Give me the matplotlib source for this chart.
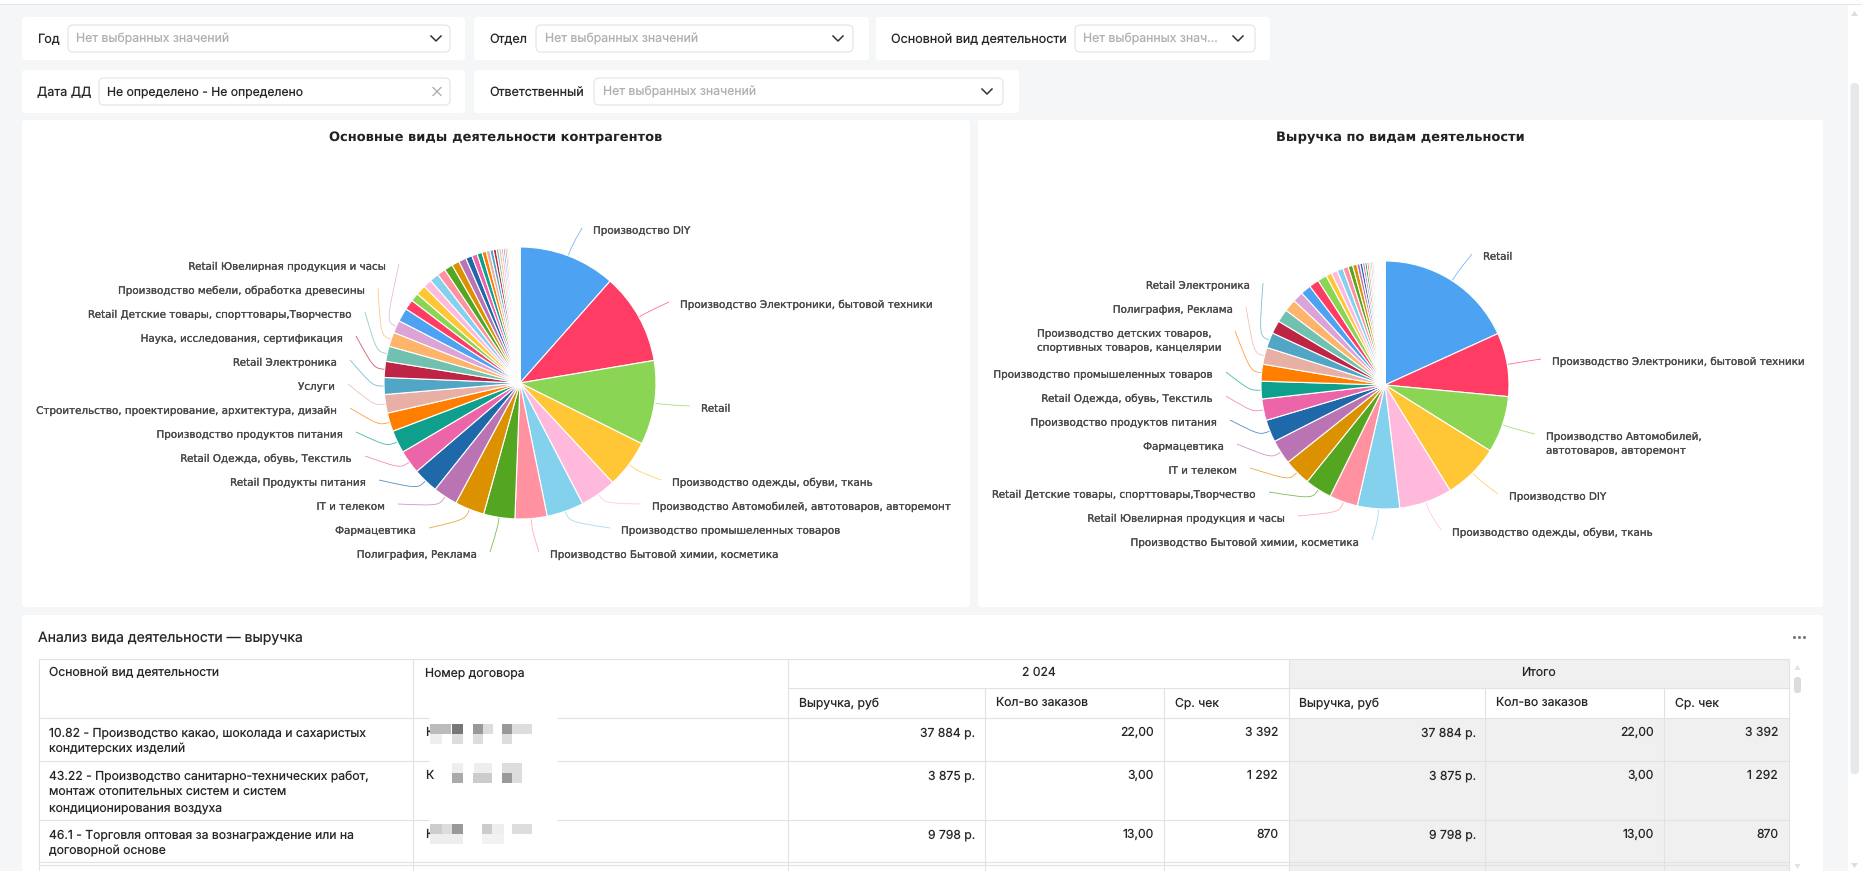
import numpy as np
import matplotlib
matplotlib.use("Agg")
import matplotlib.pyplot as plt
import matplotlib.patheffects as pe
from matplotlib.patches import FancyBboxPatch, Rectangle, Polygon
from matplotlib.path import Path
from matplotlib.patches import PathPatch
from matplotlib.textpath import TextPath
from matplotlib.font_manager import FontProperties

plt.rcParams["text.hinting"] = "no_hinting"
plt.rcParams["text.hinting_factor"] = 1

W, H = 1862, 871
PALETTE = ["#4DA2F1", "#FF3D64", "#8AD554", "#FFC636", "#FFB9DD", "#84D1EE", "#FF91A1", "#54A520", "#DB9100", "#BA74B3",
           "#1F68A9", "#ED65A9", "#0FA08D", "#FF7E00", "#E8B0A4", "#52A6C5", "#BE2443", "#70C1AF", "#FFB46C", "#DCA3D7"]

# ---- data: left pie
pie1_values = [11.5, 10.8, 10.0, 5.7, 4.3, 4.4, 3.8, 3.7, 3.5, 2.9, 3.0, 2.8, 2.7, 2.2, 2.2, 2.0, 1.9, 1.8, 1.7, 1.5,
               1.6, 1.2, 1.0, 1.2, 1.0, 1.1, 1.0, 1.0, 0.9, 0.9, 0.75, 0.65, 0.6,
               0.5, 0.45, 0.4, 0.35, 0.3, 0.28, 0.25, 0.22, 0.2, 0.18, 0.15, 0.12,
               0.1, 0.1, 0.08, 0.08, 0.07, 0.07, 0.06, 0.06, 0.05, 0.05, 0.05, 0.05, 0.04, 0.04, 0.04, 0.04, 0.03, 0.03, 0.03, 0.03]
pie1_right_names = ["Производство DIY", "Производство Электроники, бытовой техники", "Retail",
                    "Производство одежды, обуви, ткань", "Производство Автомобилей, автотоваров, авторемонт",
                    "Производство промышеленных товаров", "Производство Бытовой химии, косметика"]
pie1_left_names = ["Полиграфия, Реклама", "Фармацевтика", "IT и телеком", "Retail Продукты питания",
                   "Retail Одежда, обувь, Текстиль", "Производство продуктов питания",
                   "Строительство, проектирование, архитектура, дизайн", "Услуги", "Retail Электроника",
                   "Наука, исследования, сертификация", "Retail Детские товары, спорттовары,Творчество",
                   "Производство мебели, обработка древесины", "Retail Ювелирная продукция и часы"]

# ---- data: right pie
pie2_values = [18.2, 8.3, 7.4, 7.3, 6.9, 5.5, 3.7, 3.5, 3.5, 3.2, 2.9, 2.8, 2.3, 2.2, 2.2, 2.0, 1.7, 1.7, 1.6, 1.4,
               1.35, 1.3, 1.2, 0.75, 0.8, 0.8, 0.7, 0.6, 0.55,
               0.4, 0.35, 0.3, 0.28, 0.25, 0.22, 0.2, 0.18, 0.16, 0.14, 0.12, 0.1,
               0.09, 0.08, 0.08, 0.07, 0.07, 0.06, 0.06, 0.05, 0.05, 0.05, 0.05, 0.04, 0.04, 0.04, 0.04, 0.03, 0.03, 0.03]
pie2_right_names = ["Retail", "Производство Электроники, бытовой техники", "Производство Автомобилей,\nавтотоваров, авторемонт",
                    "Производство DIY", "Производство одежды, обуви, ткань"]
pie2_left_names = ["Производство Бытовой химии, косметика", "Retail Ювелирная продукция и часы",
                   "Retail Детские товары, спорттовары,Творчество", "IT и телеком", "Фармацевтика",
                   "Производство продуктов питания", "Retail Одежда, обувь, Текстиль",
                   "Производство промышеленных товаров", "Производство детских товаров,\nспортивных товаров, канцелярии",
                   "Полиграфия, Реклама", "Retail Электроника"]

# ---- data: table
table_title = "Анализ вида деятельности — выручка"
col_heads = ["Основной вид деятельности", "Номер договора"]
year_heads = ["2 024", "Итого"]
measure_heads = ["Выручка, руб", "Кол-во заказов", "Ср. чек"]
row_names = [["10.82 - Производство какао, шоколада и сахаристых", "кондитерских изделий"],
             ["43.22 - Производство санитарно-технических работ,", "монтаж отопительных систем и систем", "кондиционирования воздуха"],
             ["46.1 - Торговля оптовая за вознаграждение или на", "договорной основе"]]
revenue = ["37 884 р.", "3 875 р.", "9 798 р."]
orders = ["22,00", "3,00", "13,00"]
avg_check = ["3 392", "1 292", "870"]

# ---- layout (pixels), separate from the values
PIE1 = dict(cx=520, cy=383, r=136)
PIE2 = dict(cx=1385, cy=385, r=124)
pie1_right_pos = [(593, 231), (680, 305), (701, 409), (672, 483), (652, 507), (621, 531), (550, 555)]
pie1_left_pos = [(476, 555), (415, 531), (384, 507), (365, 483), (351, 459), (342, 435), (336, 411), (334, 387),
                 (336, 363), (342, 339), (351, 315), (364, 291), (385, 267)]
pie2_right_pos = [(1483, 257), (1552, 362), (1546, 437), (1509, 497), (1452, 533)]
pie2_left_pos = [(1358, 543), (1284, 519), (1255, 495), (1236, 471), (1223, 447), (1216, 423), (1212, 399), (1212, 375),
                 (1221, 334), (1232, 310), (1249, 286)]

BG = "#F4F6F7"
UI = "Inter"
LABEL_FS = 7.45
TABLE_FS = 8.75
TEXT = "#262626"
LABEL_EFFECT = [pe.withStroke(linewidth=0.2, foreground="#555555")]
LABEL_PROP = FontProperties(family="DejaVu Sans", size=LABEL_FS)

fig = plt.figure(figsize=(W / 100, H / 100), dpi=100, facecolor=BG)
ax = fig.add_axes([0, 0, 1, 1], zorder=0)
ax.set_xlim(0, W)
ax.set_ylim(H, 0)
ax.axis("off")


def label_width(s):
    """Width in pixels of a label drawn as a path (path effects draw text that way)."""
    tp = TextPath((0, 0), s, size=LABEL_FS * 100 / 72, prop=LABEL_PROP)
    return tp.get_extents().x1


def box(x0, y0, x1, y1, fc="white", ec="none", rad=3, lw=0.8, z=1):
    ax.add_patch(FancyBboxPatch((x0, y0), x1 - x0, y1 - y0, boxstyle=f"round,pad=0,rounding_size={rad}",
                                fc=fc, ec=ec, lw=lw, zorder=z))


def txt(x, y, s, fs=9.0, color=TEXT, ha="left", va="center", family=UI, z=5, **kw):
    dy = 0.7 if family == UI else 0
    return ax.text(x, y + dy, s, fontsize=fs, color=color, ha=ha, va=va, family=family, zorder=z, **kw)


def rect(x0, y0, x1, y1, fc, z=2):
    ax.add_patch(Rectangle((x0, y0), x1 - x0, y1 - y0, fc=fc, ec="none", zorder=z))


def hline(y, x0, x1, c="#E2E2E2", z=3):
    ax.plot([x0, x1], [y, y], color=c, lw=0.8, zorder=z, solid_capstyle="butt")


def vline(x, y0, y1, c="#E2E2E2", z=3):
    ax.plot([x, x], [y0, y1], color=c, lw=0.8, zorder=z, solid_capstyle="butt")


def chevron(x, y):
    ax.plot([x - 5, x, x + 5], [y - 2.5, y + 2.5, y - 2.5], color="#333333", lw=1.1, zorder=5)


# page chrome
rect(0, 0, W, 4, "white", z=0.5)
hline(4, 0, W, c="#E6E6E6")
rect(1848, 4, W, H, "white", z=0.5)
box(1850.5, 83, 1859, 774, fc="#E7E8E9", rad=4)
ax.add_patch(Polygon([(1851, 16), (1854.5, 11), (1858, 16)], fc="#DDDDDD", ec="none", zorder=3))
ax.add_patch(Polygon([(1851, 863), (1854.5, 868), (1858, 863)], fc="#DDDDDD", ec="none", zorder=3))

# filter bar
PLACEHOLDER = "Нет выбранных значений"
filters = [
    (22, 465, 17, 60, "Год", 37, 68, 450, PLACEHOLDER, 76, "chev", 436),
    (474, 869, 17, 60, "Отдел", 489, 536, 853, PLACEHOLDER, 545, "chev", 838),
    (876, 1270, 17, 60, "Основной вид деятельности", 891, 1075, 1255, "Нет выбранных знач...", 1083, "chev", 1238),
    (22, 465, 70, 113, "Дата ДД", 37, 99, 450, "Не определено - Не определено", 107, "x", 437),
    (474, 1019, 70, 113, "Ответственный", 489, 594, 1003, PLACEHOLDER, 603, "chev", 987),
]
for x0, x1, y0, y1, lab, lx, ix0, ix1, val, vx, icon, icx in filters:
    box(x0, y0, x1, y1)
    ym = (y0 + y1) / 2
    box(ix0, y0 + 8, ix1, y1 - 8, fc="white", ec="#E3E3E3", rad=5)
    txt(lx, ym, lab, fs=9.05)
    if icon == "x":
        txt(vx, ym, val, fs=8.75)
        ax.plot([icx - 4, icx + 4], [ym - 4, ym + 4], color="#A8A8A8", lw=0.9, zorder=5)
        ax.plot([icx - 4, icx + 4], [ym + 4, ym - 4], color="#A8A8A8", lw=0.9, zorder=5)
    else:
        txt(vx, ym, val, fs=8.85, color="#B0B0B0")
        chevron(icx, ym)

# chart panels
box(22, 120, 970, 607)
box(978, 120, 1823, 607)
txt(496, 138, "Основные виды деятельности контрагентов", fs=9.4, ha="center", family="DejaVu Sans", weight="bold", color="#222222")
txt(1400, 138, "Выручка по видам деятельности", fs=9.4, ha="center", family="DejaVu Sans", weight="bold", color="#222222")


def draw_pie(values, spec, right_names, right_pos, left_names, left_pos):
    cx, cy, r = spec["cx"], spec["cy"], spec["r"]
    side = 2.5 * r
    pa = fig.add_axes([(cx - side / 2) / W, 1 - (cy + side / 2) / H, side / W, side / H], zorder=1)
    pa.patch.set_alpha(0)
    colors = [PALETTE[i % len(PALETTE)] for i in range(len(values))]
    wedges, _ = pa.pie(values, colors=colors, startangle=90, counterclock=False, radius=1,
                       wedgeprops=dict(edgecolor="white", linewidth=0.8))
    order = list(zip(right_names, right_pos, [1] * len(right_names))) + list(zip(left_names, left_pos, [-1] * len(left_names)))
    for i, (name, (lx, ly), sgn) in enumerate(order):
        w = wedges[i]
        mid = np.deg2rad((w.theta1 + w.theta2) / 2)
        ux, uy = np.cos(mid), -np.sin(mid)
        sx, sy = cx + r * ux, cy + r * uy
        bx, by = sx + 11 * ux, sy + 11 * uy
        ex, ey = lx - 11 if sgn > 0 else lx + 14, ly - 3
        path = Path([(sx, sy), (bx, by), (bx, by), (ex, ey)], [Path.MOVETO, Path.CURVE4, Path.CURVE4, Path.CURVE4])
        ax.add_patch(PathPatch(path, fc="none", ec=colors[i], lw=0.6, alpha=0.75, zorder=3))
        lines = name.split("\n")
        if len(lines) == 1:
            x_left = lx if sgn > 0 else lx - label_width(name)
            txt(x_left, ly, name, fs=LABEL_FS, ha="left", family="DejaVu Sans", color="#484848",
                path_effects=LABEL_EFFECT)
        else:
            x_left = lx if sgn > 0 else lx - 184
            for k, ln in enumerate(lines):
                txt(x_left, ly + 14 * k, ln, fs=LABEL_FS, ha="left", family="DejaVu Sans", color="#484848",
                    path_effects=LABEL_EFFECT)


draw_pie(pie1_values, PIE1, pie1_right_names, pie1_right_pos, pie1_left_names, pie1_left_pos)
draw_pie(pie2_values, PIE2, pie2_right_names, pie2_right_pos, pie2_left_names, pie2_left_pos)

# table panel
box(22, 615, 1823, H + 20)
txt(38.5, 638, table_title, fs=10.1)
ax.plot([1794, 1799, 1804], [637, 637, 637], ls="none", marker="o", ms=1.2, color="#777777", zorder=5)

col_x = [38.5, 413, 788, 985, 1164, 1289, 1485, 1664, 1789]
row_y = [659, 688, 718, 761, 820, 862, H]
rect(1289, 659, 1789, 688, "#F0F0F0")
rect(1289, 718, 1789, H, "#F0F0F0")
for x in [col_x[0], col_x[1], col_x[2], col_x[5], col_x[8]]:
    vline(x, 659, H)
for x in [col_x[3], col_x[4], col_x[6], col_x[7]]:
    vline(x, 688, H)
hline(659, 38.5, 1789)
hline(688, 788, 1789)
for y in row_y[2:-1]:
    hline(y, 38.5, 1789)
hline(865, 38.5, 1789)

txt(49, 672, col_heads[0], fs=TABLE_FS)
txt(425, 672, col_heads[1], fs=TABLE_FS)
txt(1038.5, 672, year_heads[0], fs=TABLE_FS, ha="center")
txt(1538, 672, year_heads[1], fs=TABLE_FS, ha="center")
for x0, s in zip([799, 996, 1175, 1299, 1496, 1675], measure_heads * 2):
    txt(x0, 702, s, fs=TABLE_FS)

row_text_y = [732, 775, 834]
for i, y0 in enumerate(row_text_y):
    for k, ln in enumerate(row_names[i]):
        txt(49, y0 + 16 * k, ln, fs=TABLE_FS)
    txt(975, y0, revenue[i], fs=TABLE_FS, ha="right")
    txt(1154, y0, orders[i], fs=TABLE_FS, ha="right")
    txt(1278, y0, avg_check[i], fs=TABLE_FS, ha="right")
    txt(1476, y0, revenue[i], fs=TABLE_FS, ha="right")
    txt(1654, y0, orders[i], fs=TABLE_FS, ha="right")
    txt(1778, y0, avg_check[i], fs=TABLE_FS, ha="right")
    txt(425, y0, "К", fs=TABLE_FS)

# redaction blocks over the contract numbers
rect(430, 716, 557, 720, "white", z=4)
rect(430, 759, 557, 763, "white", z=4)
rect(430, 818, 557, 822, "white", z=4)
redactions = [
    (430, 451, 724, 734, "#BBBBBB"), (452, 463, 724, 734, "#777777"), (473, 483, 724, 734, "#999999"), (483, 493, 724, 734, "#DDDDDD"),
    (502, 512, 724, 734, "#999999"), (512, 532, 724, 734, "#DDDDDD"), (430, 442, 734, 744, "#EEEEEE"), (452, 463, 734, 744, "#DDDDDD"),
    (473, 483, 734, 744, "#DDDDDD"), (502, 512, 734, 744, "#DDDDDD"),
    (452, 463, 773, 783, "#AAAAAA"), (473, 492, 773, 783, "#CCCCCC"), (502, 512, 773, 783, "#999999"), (512, 522, 773, 783, "#DDDDDD"),
    (452, 463, 763, 773, "#EEEEEE"), (474, 492, 763, 773, "#EEEEEE"), (502, 522, 763, 773, "#DDDDDD"),
    (430, 442, 824, 834, "#CCCCCC"), (442, 452, 824, 834, "#DDDDDD"), (452, 463, 824, 834, "#999999"), (482, 492, 824, 834, "#CCCCCC"),
    (492, 504, 824, 834, "#EEEEEE"), (512, 532, 824, 834, "#DDDDDD"), (430, 463, 834, 844, "#EEEEEE"), (482, 504, 834, 844, "#F2F2F2"),
]
for x0, x1, y0, y1, c in redactions:
    rect(x0, y0, x1, y1, c, z=6)

# table scrollbar
box(1794, 677, 1801, 693, fc="#DCDCDC", rad=3)
ax.add_patch(Polygon([(1794.5, 670), (1797.5, 665), (1800.5, 670)], fc="#E2E2E2", ec="none", zorder=3))
ax.add_patch(Polygon([(1794.5, 864), (1797.5, 869), (1800.5, 864)], fc="#E2E2E2", ec="none", zorder=3))

fig.savefig("out.png", dpi=100, facecolor=BG)
